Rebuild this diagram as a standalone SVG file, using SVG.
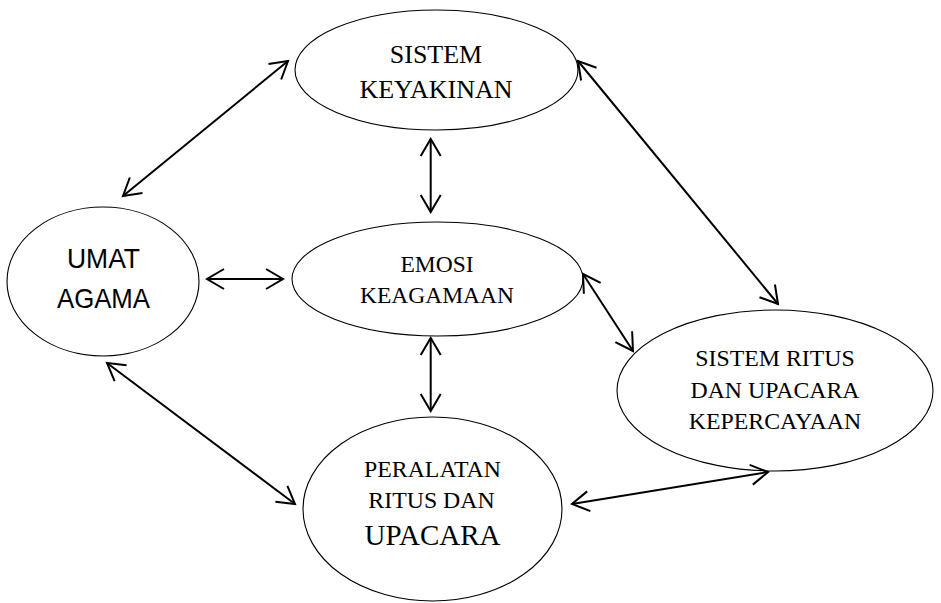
<svg xmlns="http://www.w3.org/2000/svg" width="941" height="603" viewBox="0 0 941 603">
<style>
.node ellipse{fill:#fff;stroke:#000;stroke-width:1.1}
.serif{font-family:"Liberation Serif","Times New Roman",serif;fill:#000;text-anchor:middle}
.sans{font-family:"Liberation Sans",Arial,sans-serif;fill:#000;text-anchor:middle}
.conn line{stroke:#000;stroke-width:2;fill:none;marker-start:url(#ah);marker-end:url(#ah)}
</style>
<defs>
<marker id="ah" markerUnits="userSpaceOnUse" viewBox="-22 -12 24 24" markerWidth="24" markerHeight="24" refX="0" refY="0" orient="auto-start-reverse" overflow="visible">
<path d="M-17,-10 L0,0 L-17,10" fill="none" stroke="#000" stroke-width="2"/>
</marker>
</defs>
<rect width="941" height="603" fill="#fff"/>
<g id="sistem-keyakinan" class="node">
<ellipse cx="436.5" cy="70" rx="141.5" ry="60"/>
<text class="serif" font-size="26" x="436" y="63">SISTEM</text>
<text class="serif" font-size="26" x="436" y="98">KEYAKINAN</text>
</g>
<g id="emosi-keagamaan" class="node">
<ellipse cx="437.5" cy="279" rx="145.5" ry="57"/>
<text class="serif" font-size="23.5" x="437" y="272">EMOSI</text>
<text class="serif" font-size="23.5" x="437" y="303">KEAGAMAAN</text>
</g>
<g id="umat-agama" class="node">
<ellipse cx="103" cy="281.5" rx="96" ry="74.5"/>
<text class="sans" font-size="28" x="103.5" y="268" textLength="73" lengthAdjust="spacingAndGlyphs">UMAT</text>
<text class="sans" font-size="28" x="103.5" y="308" textLength="93" lengthAdjust="spacingAndGlyphs">AGAMA</text>
</g>
<g id="peralatan" class="node">
<ellipse cx="432.5" cy="509" rx="129.5" ry="92"/>
<text class="serif" font-size="23.8" x="432.5" y="477">PERALATAN</text>
<text class="serif" font-size="23.8" x="431.5" y="508">RITUS DAN</text>
<text class="serif" font-size="29" x="432.5" y="545">UPACARA</text>
</g>
<g id="sistem-ritus" class="node">
<ellipse cx="775" cy="390.5" rx="158" ry="80.5"/>
<text class="serif" font-size="23.8" x="775" y="366">SISTEM RITUS</text>
<text class="serif" font-size="23.8" x="775" y="398">DAN UPACARA</text>
<text class="serif" font-size="23.8" x="775" y="429">KEPERCAYAAN</text>
</g>
<g id="connectors" class="conn">
<line x1="123" y1="196" x2="288" y2="61"/>
<line x1="430.7" y1="139" x2="430.7" y2="212"/>
<line x1="207" y1="279" x2="283" y2="279"/>
<line x1="578" y1="61" x2="778" y2="304"/>
<line x1="583" y1="274" x2="633" y2="351"/>
<line x1="430.7" y1="338" x2="430.7" y2="411"/>
<line x1="107" y1="363" x2="295" y2="504"/>
<line x1="572" y1="504" x2="768" y2="472"/>
</g>
</svg>
